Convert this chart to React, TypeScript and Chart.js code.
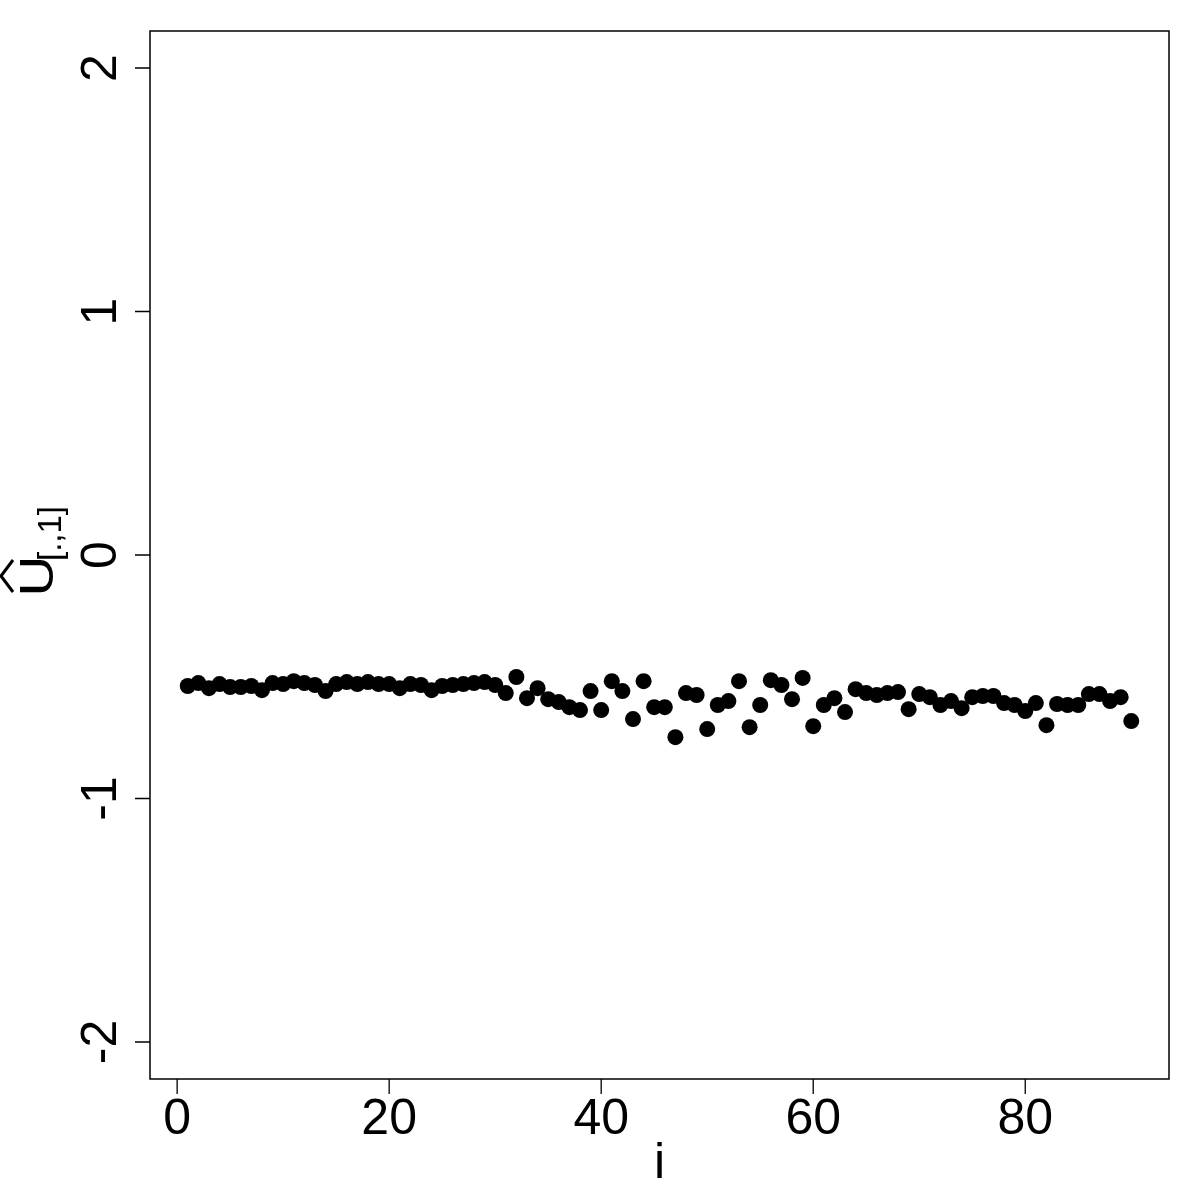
import React, { useEffect, useRef } from "react";
import { Chart, registerables } from "chart.js";

Chart.register(...registerables);

const FONT = "'Liberation Sans', Arial, Helvetica, sans-serif";

const indices = [
  1, 2, 3, 4, 5, 6, 7, 8, 9, 10,
  11, 12, 13, 14, 15, 16, 17, 18, 19, 20,
  21, 22, 23, 24, 25, 26, 27, 28, 29, 30,
  31, 32, 33, 34, 35, 36, 37, 38, 39, 40,
  41, 42, 43, 44, 45, 46, 47, 48, 49, 50,
  51, 52, 53, 54, 55, 56, 57, 58, 59, 60,
  61, 62, 63, 64, 65, 66, 67, 68, 69, 70,
  71, 72, 73, 74, 75, 76, 77, 78, 79, 80,
  81, 82, 83, 84, 85, 86, 87, 88, 89, 90,
];

const uHat1 = [
  -0.538, -0.526, -0.547, -0.530, -0.542, -0.542, -0.538, -0.555, -0.526, -0.530,
  -0.518, -0.526, -0.534, -0.559, -0.530, -0.522, -0.530, -0.522, -0.530, -0.530,
  -0.547, -0.530, -0.534, -0.555, -0.538, -0.534, -0.530, -0.526, -0.522, -0.534,
  -0.567, -0.501, -0.588, -0.547, -0.592, -0.604, -0.625, -0.637, -0.559, -0.637,
  -0.518, -0.559, -0.674, -0.518, -0.625, -0.625, -0.748, -0.567, -0.575, -0.715,
  -0.616, -0.600, -0.518, -0.707, -0.616, -0.514, -0.534, -0.592, -0.505, -0.703,
  -0.616, -0.588, -0.645, -0.551, -0.567, -0.575, -0.567, -0.563, -0.633, -0.571,
  -0.584, -0.616, -0.600, -0.629, -0.584, -0.579, -0.579, -0.608, -0.616, -0.641,
  -0.608, -0.699, -0.612, -0.616, -0.616, -0.571, -0.571, -0.600, -0.584, -0.682,
];

const xTicks = [0, 20, 40, 60, 80];
const xTickLabels = ["0", "20", "40", "60", "80"];
const yTicks = [-2, -1, 0, 1, 2];
const yTickLabels = ["-2", "-1", "0", "1", "2"];

const X_MIN = -2.56;
const X_MAX = 93.56;
const Y_MIN = -2.152;
const Y_MAX = 2.152;

const rPlotPlugin = {
  id: "rPlot",
  afterDraw(chart: any) {
    const { ctx, chartArea: a, scales } = chart;
    const xs = scales.x;
    const ys = scales.y;
    ctx.save();
    ctx.strokeStyle = "#000";
    ctx.lineWidth = 1.5;
    ctx.strokeRect(a.left, a.top, a.right - a.left, a.bottom - a.top);

    ctx.lineWidth = 1.3;
    ctx.beginPath();
    xTicks.forEach((v) => {
      const px = xs.getPixelForValue(v);
      ctx.moveTo(px, a.bottom);
      ctx.lineTo(px, a.bottom + 15);
    });
    yTicks.forEach((v) => {
      const py = ys.getPixelForValue(v);
      ctx.moveTo(a.left, py);
      ctx.lineTo(a.left - 15, py);
    });
    ctx.stroke();

    ctx.fillStyle = "#000";
    ctx.font = `50px ${FONT}`;
    ctx.textAlign = "center";
    ctx.textBaseline = "alphabetic";
    xTicks.forEach((v, i) => {
      ctx.fillText(xTickLabels[i], xs.getPixelForValue(v), a.bottom + 55);
    });
    yTicks.forEach((v, i) => {
      ctx.save();
      ctx.translate(a.left - 34, ys.getPixelForValue(v));
      ctx.rotate(-Math.PI / 2);
      ctx.fillText(yTickLabels[i], 0, 0);
      ctx.restore();
    });

    // x axis title
    ctx.fillText("i", (a.left + a.right) / 2, 1178);

    // y axis title: U-hat with subscript [.,1]
    ctx.save();
    ctx.translate(53, 576);
    ctx.rotate(-Math.PI / 2);
    ctx.save();
    ctx.scale(1.18, 1);
    ctx.font = `48px ${FONT}`;
    ctx.textAlign = "center";
    ctx.fillText("U", 0, 0);
    ctx.restore();
    // hat
    ctx.lineWidth = 3;
    ctx.beginPath();
    ctx.moveTo(-16, -40);
    ctx.lineTo(0, -52);
    ctx.lineTo(16, -40);
    ctx.stroke();
    // subscript
    ctx.font = `33px ${FONT}`;
    ctx.textAlign = "left";
    ctx.fillText("[.,1]", 15, 8);
    ctx.restore();

    ctx.restore();
  },
};

export default function App() {
  const canvasRef = useRef<HTMLCanvasElement | null>(null);

  useEffect(() => {
    if (!canvasRef.current) return;
    const points = indices.map((x, i) => ({ x, y: uHat1[i] }));
    const chart = new Chart(canvasRef.current, {
      type: "scatter",
      data: {
        datasets: [
          {
            data: points,
            backgroundColor: "#000",
            borderWidth: 0,
            pointRadius: 8,
            pointHoverRadius: 8,
            pointStyle: "circle",
          },
        ],
      },
      options: {
        animation: false,
        responsive: false,
        events: [],
        layout: { padding: { top: 31, right: 31, left: 0, bottom: 0 } },
        plugins: {
          legend: { display: false },
          tooltip: { enabled: false },
        },
        scales: {
          x: {
            type: "linear",
            min: X_MIN,
            max: X_MAX,
            ticks: { display: false },
            grid: { display: false },
            border: { display: false },
            afterFit: (s: any) => {
              s.height = 121;
            },
          },
          y: {
            type: "linear",
            min: Y_MIN,
            max: Y_MAX,
            ticks: { display: false },
            grid: { display: false },
            border: { display: false },
            afterFit: (s: any) => {
              s.width = 150;
            },
          },
        },
      },
      plugins: [rPlotPlugin],
    });
    return () => chart.destroy();
  }, []);

  return (
    <div style={{ position: "absolute", left: 0, top: 0, width: 1200, height: 1200, background: "#fff" }}>
      <canvas ref={canvasRef} width={1200} height={1200} style={{ width: 1200, height: 1200 }} />
    </div>
  );
}
